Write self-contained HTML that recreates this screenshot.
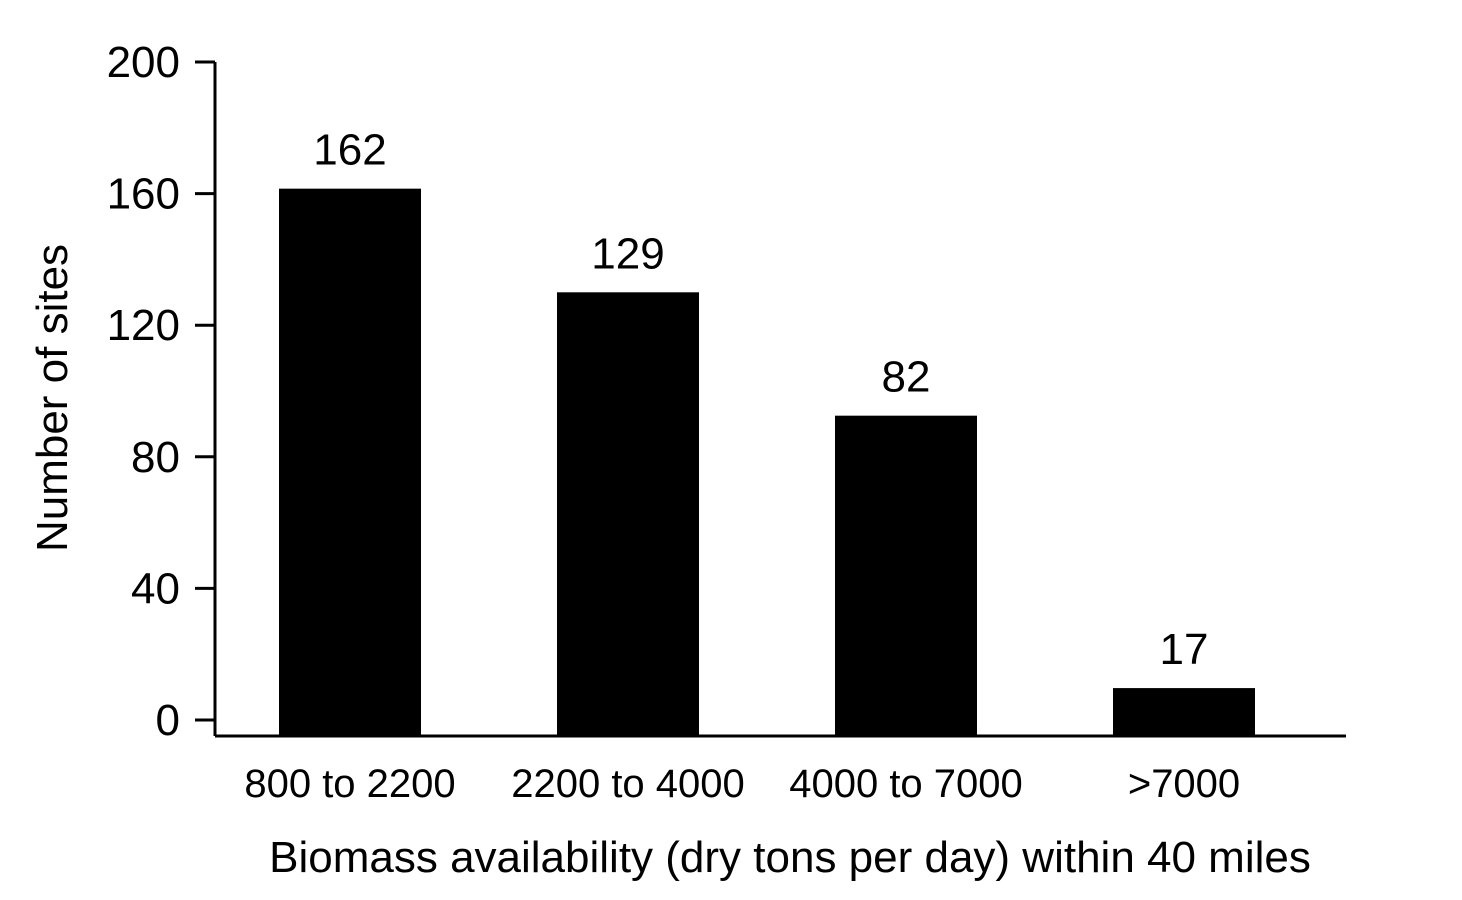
<!DOCTYPE html>
<html><head><meta charset="utf-8"><style>
html,body{margin:0;padding:0;background:#fff;}
svg{display:block;font-family:"Liberation Sans",Arial,sans-serif;}
</style></head><body>
<svg id="chart" width="1462" height="900"></svg>
<script>
const categories = ["800 to 2200","2200 to 4000","4000 to 7000",">7000"];
const barValues = [161.5,130,92.5,9.7];
const valueLabels = ["162","129","82","17"];
const yTicks = [0,40,80,120,160,200];
const NS="http://www.w3.org/2000/svg";
const svg=document.getElementById('chart');
const y0=720,y200=62,baseY=736,axisX=215;
function yScale(v){return y0-(v/200)*(y0-y200);}
function xCenter(i){return 350+i*278;}
function mk(tag,attrs,txt){const e=document.createElementNS(NS,tag);for(const k in attrs)e.setAttribute(k,attrs[k]);if(txt!==undefined)e.textContent=txt;svg.appendChild(e);return e;}
// bars
categories.forEach((c,i)=>{
  const cx=xCenter(i),top=yScale(barValues[i]);
  const b=mk('rect',{x:cx-71,y:top,width:142,height:baseY-top,fill:'#000'});
  
  
  const t=mk('text',{x:cx,y:top-24,'text-anchor':'middle','font-size':44},valueLabels[i]);
  
  
  const l=mk('text',{x:cx,y:797,'text-anchor':'middle','font-size':40},c);
  
  
});
// axes
const ya=mk('line',{x1:axisX,y1:y200,x2:axisX,y2:baseY,stroke:'#000','stroke-width':3});


const xa=mk('line',{x1:axisX,y1:baseY,x2:1346,y2:baseY,stroke:'#000','stroke-width':3});


yTicks.forEach(v=>{
  const y=yScale(v);
  const tk=mk('line',{x1:195,y1:y,x2:axisX,y2:y,stroke:'#000','stroke-width':3});
  
  
  const tl=mk('text',{x:180,y:y+15,'text-anchor':'end','font-size':44},String(v));
  
  
});
const yt=mk('text',{x:0,y:0,'text-anchor':'middle','font-size':44,transform:'translate(67,398) rotate(-90)'},'Number of sites');


const xt=mk('text',{x:790,y:872,'text-anchor':'middle','font-size':44},'Biomass availability (dry tons per day) within 40 miles');


</script>
</body></html>
